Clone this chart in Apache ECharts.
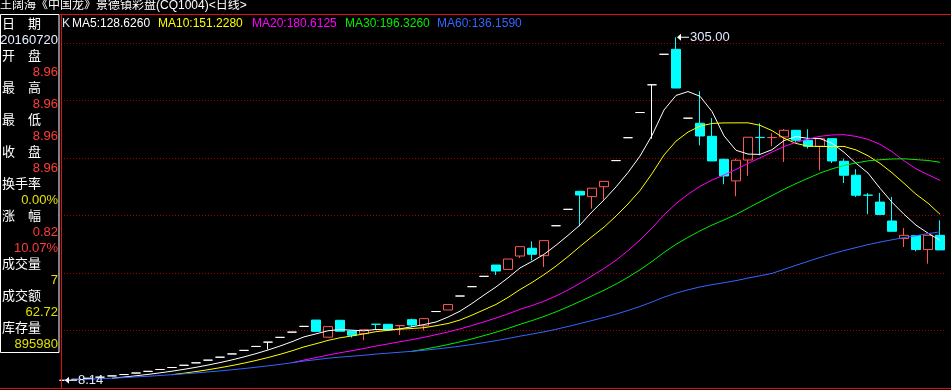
<!DOCTYPE html>
<html><head><meta charset="utf-8">
<script src="https://cdn.jsdelivr.net/npm/echarts@6/dist/echarts.min.js"></script>
<style>html,body{margin:0;padding:0;background:#000;overflow:hidden}#c{width:951px;height:390px}</style>
</head><body><div id="c"></div>
<script>
// ---- data ----
const titleText = '王阔海《中国龙》景德镇彩盘(CQ1004)<日线>';
const opens  = [8.14,8.96,9.86,10.84,11.93,13.12,14.43,15.88,17.47,19.21,21.13,23.25,25.57,28.13,30.94,34.03,37.44,41.18,45.29,49.82,54.80,60.28,45.45,60.06,50.8,48.5,56.7,56.6,55.4,60.6,55.3,67.65,69.0,81.07,89.18,98.10,107.9,104.1,115.7,122.4,116.0,141.9,156.1,171.7,167.1,175.7,198.3,218.1,239.9,263.9,290.3,294.6,235.0,230.6,219.3,199.4,180.7,198.8,218.4,218.2,218.7,224.5,215.9,210.7,217.3,197.7,185.6,168.4,162.4,146.0,130.8,133.4,121.3,133.6];
const highs  = [8.14,8.96,9.86,10.84,11.93,13.12,14.43,15.88,17.47,19.21,21.13,23.25,25.57,28.13,30.94,34.03,37.44,41.18,45.29,49.82,54.80,60.28,54.6,60.06,50.8,51.9,56.7,56.6,55.5,61.5,61.5,67.65,73.7,81.07,89.18,98.10,107.9,113.1,123.8,128.4,129.0,141.9,156.1,171.7,174.4,180.3,198.3,218.1,239.9,263.9,290.3,305.0,235.0,258.3,235.1,200.0,200.0,218.5,230.6,221.9,225.6,225.0,225.4,217.3,217.3,200.0,190.8,170.3,170.3,166.8,139.9,133.4,133.6,146.6];
const lows   = [8.14,8.96,9.86,10.84,11.93,13.12,14.43,15.88,17.47,19.21,21.13,23.25,25.57,28.13,30.94,34.03,37.44,34.8,45.29,49.82,54.80,50.5,45.45,50.6,45.1,42.8,52.0,51.8,47.3,54.3,51.3,67.65,69.0,81.07,89.18,98.10,99.3,104.1,114.0,112.0,106.2,141.9,156.1,141.4,156.7,164.6,198.3,218.1,239.9,217.3,290.3,261.1,235.0,211.5,198.0,177.8,167.4,185.1,202.9,210.7,197.1,214.0,208.7,189.9,196.2,178.9,166.8,151.9,151.0,137.1,123.5,119.8,109.1,121.0];
const closes = [8.14,8.96,9.86,10.84,11.93,13.12,14.43,15.88,17.47,19.21,21.13,23.25,25.57,28.13,30.94,34.03,37.44,41.18,45.29,49.82,54.80,50.5,54.6,50.6,47.1,51.9,56.6,52.3,55.5,56.0,61.5,67.65,73.7,81.07,89.18,98.10,102.7,113.1,123.8,117.2,129.0,141.9,156.1,168.5,174.4,180.3,198.3,218.1,239.9,263.9,290.3,261.1,235.0,219.6,198.0,185.0,198.6,218.5,218.2,218.3,224.5,215.9,210.7,217.3,198.0,185.6,168.3,168.3,151.7,137.1,133.6,121.3,133.6,121.0];
const categories = closes.map((_, i) => String(i + 1));
const maPeriods = [5, 10, 20, 30, 60];
const maLabels = ['MA5:128.6260', 'MA10:151.2280', 'MA20:180.6125', 'MA30:196.3260', 'MA60:136.1590'];
const panelLabels = ['日　期', '开　盘', '最　高', '最　低', '收　盘', '换手率', '涨　幅', '成交量', '成交额', '库存量'];
const panelValues = [['20160720'], ['8.96'], ['8.96'], ['8.96'], ['8.96'], ['0.00%'], ['0.82', '10.07%'], ['7'], ['62.72'], ['895980']];

// ---- styles ----
const RED = '#ff5555', CYAN = '#00ffff', WHITE = '#ffffff';
const maColors = ['#ffffff', '#ffff00', '#ff00ff', '#00ee00', '#3366ff'];
const valueColors = ['#e8eeff', '#ff3c3c', '#ff3c3c', '#ff3c3c', '#ff3c3c', '#e0e000', '#ff3c3c', '#e0e000', '#e0e000', '#e0e000'];
const FONT = '"Liberation Sans","Noto Sans CJK SC",sans-serif';

function ma(n) {
  return closes.map((c, i) => {
    const from = Math.max(0, i - n + 1);
    if (i < n - 1 && n < 60) return null;
    let s = 0;
    for (let j = from; j <= i; j++) s += closes[j];
    return +(s / (i - from + 1)).toFixed(4);
  });
}

const kData = opens.map((o, i) => {
  const v = [o, closes[i], lows[i], highs[i]];
  if (o === closes[i]) {
    return { value: v, itemStyle: { color: WHITE, color0: WHITE, borderColor: WHITE, borderColor0: WHITE, borderColorDoji: WHITE } };
  }
  return v;
});

const graphics = [];
graphics.push({ type: 'text', left: 0, top: 0, style: { text: titleText, fill: '#ffffff', font: '12px ' + FONT, x: 0, y: 7, textVerticalAlign: 'middle' } });
graphics.push({ type: 'rect', shape: { x: 0.5, y: 14.5, width: 58.5, height: 338 }, style: { fill: null, stroke: '#ffffff', lineWidth: 1 }, z: 10 });
let row = 0;
panelLabels.forEach((lab, i) => {
  graphics.push({ type: 'text', x: 2, y: 24 + 16 * row, style: { text: lab, fill: '#ffffff', font: '13px ' + FONT, verticalAlign: 'middle', align: 'left' }, z: 10 });
  row++;
  panelValues[i].forEach(val => {
    graphics.push({ type: 'text', x: 58, y: 24 + 16 * row, style: { text: val, fill: valueColors[i], font: '13px ' + FONT, verticalAlign: 'middle', align: 'right' }, z: 10 });
    row++;
  });
});
// legend row
graphics.push({ type: 'text', x: 62, y: 24, style: { text: 'K', fill: '#dce6ff', font: '12px ' + FONT, verticalAlign: 'middle' }, z: 10 });
const legendX = [72, 158, 252, 345, 437];
maLabels.forEach((t, i) => {
  graphics.push({ type: 'text', x: legendX[i], y: 24, style: { text: t, fill: maColors[i], font: '12px ' + FONT, verticalAlign: 'middle' }, z: 10 });
});
// frame lines
graphics.push({ type: 'line', shape: { x1: 60, y1: 14.5, x2: 951, y2: 14.5 }, style: { stroke: '#e01010', lineWidth: 1 }, z: 20 });
graphics.push({ type: 'line', shape: { x1: 61.5, y1: 14, x2: 61.5, y2: 389 }, style: { stroke: '#e01010', lineWidth: 1 }, z: 20 });
graphics.push({ type: 'line', shape: { x1: 0, y1: 388.5, x2: 951, y2: 388.5 }, style: { stroke: '#e01010', lineWidth: 1 }, z: 20 });

const arrowPath = 'path://M0,3.5L4,0L4,3L12,3L12,4L4,4L4,7Z';

const series = [{
  type: 'candlestick',
  data: kData,
  barWidth: 9,
  z: 2,
  itemStyle: { color: 'transparent', color0: CYAN, borderColor: RED, borderColor0: CYAN, borderColorDoji: WHITE, borderWidth: 1 },
  markPoint: {
    symbol: arrowPath,
    symbolSize: [12, 7],
    symbolOffset: [7, 0],
    itemStyle: { color: '#ffffff' },
    label: { show: true, position: 'right', distance: 1, color: '#e0e8ff', fontSize: 13, fontFamily: FONT, formatter: p => Number(p.value).toFixed(2) },
    data: [{ type: 'max', valueDim: 'highest' }, { type: 'min', valueDim: 'lowest' }]
  }
}];
maPeriods.forEach((n, i) => {
  series.push({ type: 'line', data: ma(n), showSymbol: false, symbol: 'none', z: 3, lineStyle: { color: maColors[i], width: 1 }, itemStyle: { color: maColors[i] } });
});
// grid helper series (invisible) to bind the divider axis
series.push({ type: 'line', yAxisIndex: 1, data: [], silent: true });

const chart = echarts.init(document.getElementById('c'), null, { renderer: 'canvas' });
chart.setOption({
  backgroundColor: '#000000',
  animation: false,
  graphic: graphics,
  grid: { left: 58, width: 888, top: 14, bottom: 2, containLabel: false },
  xAxis: { type: 'category', data: categories, boundaryGap: true, show: false },
  yAxis: [
    { type: 'value', min: 1.47, max: 325.17, show: false, splitLine: { show: false } },
    { type: 'value', min: 0, max: 6.5043, interval: 1, position: 'right', axisLine: { show: false }, axisTick: { show: false }, axisLabel: { show: false },
      splitLine: { show: true, lineStyle: { color: '#a00000', type: [1, 2], width: 1 } } }
  ],
  series: series
});
</script>
</body></html>
